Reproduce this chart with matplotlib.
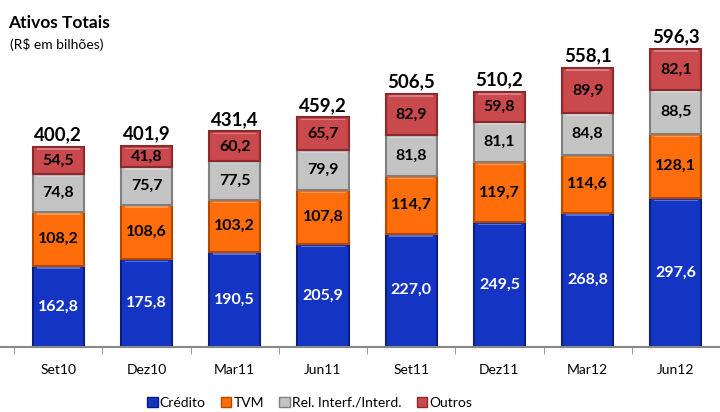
import numpy as np
import matplotlib.pyplot as plt
from matplotlib.patches import Patch

periodos = ['Set10', 'Dez10', 'Mar11', 'Jun11', 'Set11', 'Dez11', 'Mar12', 'Jun12']
credito = [162.8, 175.8, 190.5, 205.9, 227.0, 249.5, 268.8, 297.6]
tvm = [108.2, 108.6, 103.2, 107.8, 114.7, 119.7, 114.6, 128.1]
rel_interf = [74.8, 75.7, 77.5, 79.9, 81.8, 81.1, 84.8, 88.5]
outros = [54.5, 41.8, 60.2, 65.7, 82.9, 59.8, 89.9, 82.1]
totais = [400.2, 401.9, 431.4, 459.2, 506.5, 510.2, 558.1, 596.3]

series = [
    ('Crédito', credito, '#1434C4', '#0A1E80', 'white'),
    ('TVM', tvm, '#FF6E0A', '#B04800', 'black'),
    ('Rel. Interf./Interd.', rel_interf, '#C4C4C4', '#7F7F7F', 'black'),
    ('Outros', outros, '#C9494C', '#8A2A2C', 'black'),
]

plt.rcParams['font.family'] = ['Lato', 'DejaVu Sans']

fig = plt.figure(figsize=(7.2, 4.12), dpi=100)
ax = fig.add_axes([0, 1 - 347 / 412, 1, 347 / 412])

x = np.arange(len(periodos))
largura = 0.58
base = np.zeros(len(periodos))
for nome, vals, cor, borda, cor_txt in series:
    vals = np.array(vals)
    ax.bar(x, vals, largura, bottom=base, color=cor, edgecolor=borda, linewidth=1.5, zorder=2)
    # realce claro no topo de cada segmento
    ax.bar(x, np.full(len(x), 3.0), largura * 0.85, bottom=base + vals - 6,
           color='white', alpha=0.3, linewidth=0, zorder=3)
    for xi, b, v in zip(x, base, vals):
        ax.text(xi, b + v / 2, f'{v:.1f}'.replace('.', ','), ha='center', va='center',
                fontsize=11.5, fontweight='bold', color=cor_txt, zorder=4)
    base = base + vals

for xi, t in zip(x, totais):
    ax.text(xi, t + 7, f'{t:.1f}'.replace('.', ','), ha='center', va='bottom',
            fontsize=13.5, fontweight='bold', color='black')

px_per_cat = 89.3
ax.set_xlim(-59 / px_per_cat, (720 - 59) / px_per_cat)
ax.set_ylim(0, 694)

for s in ['top', 'right', 'left']:
    ax.spines[s].set_visible(False)
ax.spines['bottom'].set_color('#888888')
ax.spines['bottom'].set_linewidth(1.5)
ax.set_yticks([])
ax.set_xticks(x)
ax.set_xticklabels(periodos, fontsize=10)
ax.tick_params(axis='x', which='major', length=0, pad=12)
ax.set_xticks(np.arange(-0.5, len(periodos), 1), minor=True)
ax.tick_params(axis='x', which='minor', length=5, color='#888888')

fig.text(0.011, 0.945, 'Ativos Totais', fontsize=12.5, fontweight='bold', va='center')
fig.text(0.014, 0.893, '(R$ em bilhões)', fontsize=10, va='center')

handles = [Patch(facecolor=c, edgecolor=b) for _, _, c, b, _ in series]
fig.legend(handles, [s[0] for s in series], loc='center', bbox_to_anchor=(0.43, 0.022),
           ncol=4, frameon=False, fontsize=10, handlelength=0.75, handleheight=0.75,
           handletextpad=0.15, columnspacing=1.1, borderaxespad=0, borderpad=0)

fig.savefig('out.png', dpi=100)
